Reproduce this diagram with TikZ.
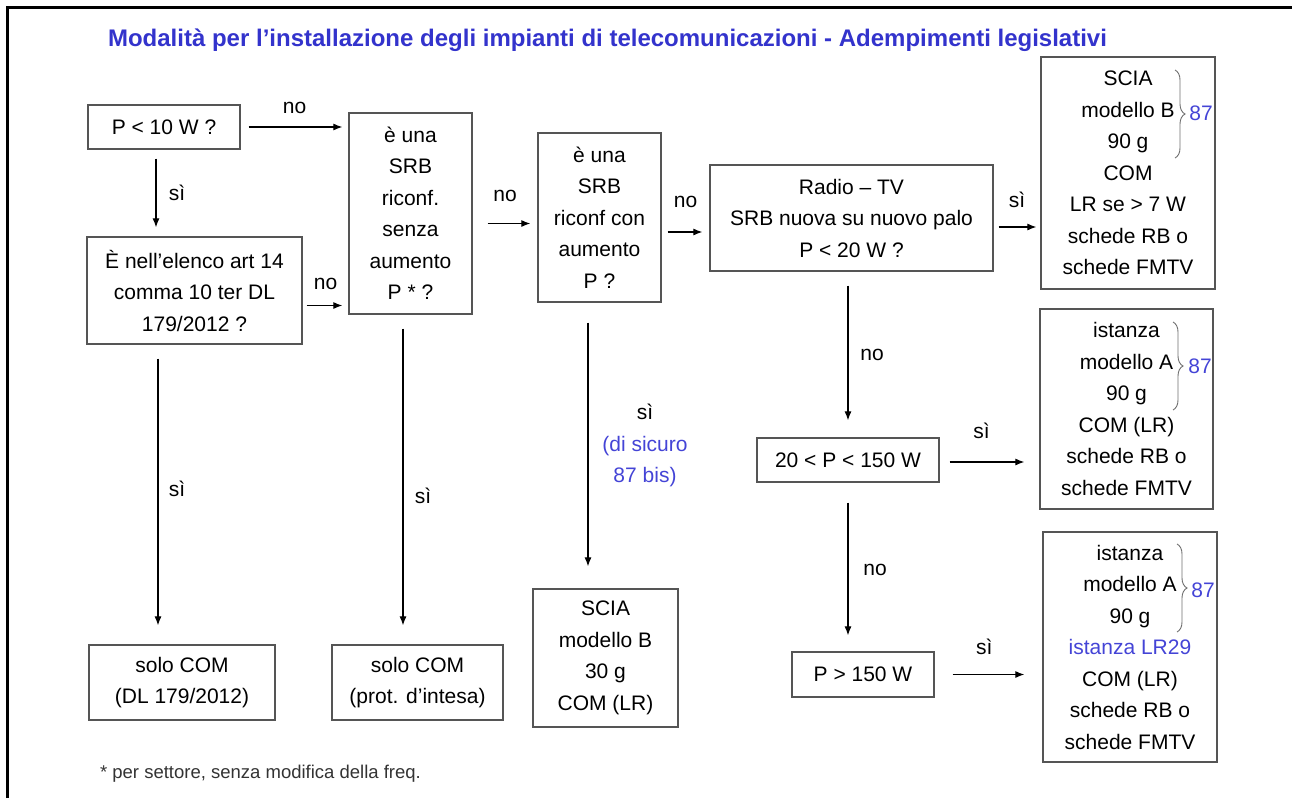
\documentclass[tikz,border=0pt]{standalone}
\usepackage{fontspec}
\setmainfont{Liberation Sans}
\usetikzlibrary{arrows.meta,decorations.pathreplacing}
\definecolor{titleblue}{RGB}{51,51,204}
\definecolor{noteblue}{RGB}{68,68,214}
\definecolor{boxgray}{RGB}{85,85,85}
\definecolor{bracegray}{RGB}{110,110,110}
\newcommand{\bodyfont}{\fontsize{21}{31.5}\selectfont}

\begin{document}
\begin{tikzpicture}[x=1pt,y=-1pt,
    box/.style={draw=boxgray,line width=1.3pt,align=center,inner sep=0pt,font=\bodyfont},
    arr/.style={line width=1.1pt,-{Latex[length=9pt,width=7pt]}},
    lbl/.style={font=\bodyfont,inner sep=0pt,align=center},
    brc/.style={draw=bracegray,line width=0.9pt,decorate,decoration={brace,amplitude=10pt}}]
  \useasboundingbox (0,0) rectangle (1292,798);
  % frame and title
  \draw[line width=3pt] (7,798) -- (7,7) -- (1292,7);
  \node[font=\fontsize{24}{28}\selectfont\bfseries,text=titleblue] (title) at (607.5,40)
    {Modalità per l’installazione degli impianti di telecomunicazioni - Adempimenti legislativi};
  % questions
  \node[box,minimum width=152pt,minimum height=44pt]  (p10)     at (164,127)   {P < 10 W ?};
  \node[box,minimum width=215pt,minimum height=107pt] (elenco)  at (194.5,290.5) {È nell’elenco art 14\\comma 10 ter DL\\179/2012 ?};
  \node[box,minimum width=123pt,minimum height=201pt] (riconf)  at (410.5,213.5) {è una\\SRB\\riconf.\\senza\\aumento\\P * ?};
  \node[box,minimum width=123pt,minimum height=169pt] (aumento) at (599.5,217.5) {è una\\SRB\\riconf con\\aumento\\P ?};
  \node[box,minimum width=283pt,minimum height=106pt] (radio)   at (851.5,218) {Radio – TV\\SRB nuova su nuovo palo\\P < 20 W ?};
  \node[box,minimum width=182pt,minimum height=44pt]  (p150)    at (848,460)   {20 < P < 150 W};
  \node[box,minimum width=142pt,minimum height=45pt]  (pgt)     at (863,674.5) {P > 150 W};
  % outcomes
  \node[box,minimum width=186pt,minimum height=75pt]  (com1)    at (182,682.5) {solo COM\\(DL 179/2012)};
  \node[box,minimum width=171pt,minimum height=75pt]  (com2)    at (417.5,682.5) {solo COM\\(prot. d’intesa)};
  \node[box,minimum width=145pt,minimum height=138pt] (scia30)  at (605.5,658) {SCIA\\modello B\\30 g\\COM (LR)};
  \node[box,minimum width=174pt,minimum height=232pt] (scia)    at (1128,173)  {SCIA\\modello B\\90 g\\COM\\LR se > 7 W\\schede RB o\\schede FMTV};
  \node[box,minimum width=173pt,minimum height=200pt] (istA)    at (1126.5,409) {istanza\\modello A\\90 g\\COM (LR)\\schede RB o\\schede FMTV};
  \node[box,minimum width=174pt,minimum height=230pt] (istB)    at (1130,647)  {istanza\\modello A\\90 g\\\textcolor{noteblue}{istanza LR29}\\COM (LR)\\schede RB o\\schede FMTV};
  % braces 87
  \draw[brc] (1175,70) -- (1175,158);
  \node[lbl,text=noteblue] (n87a) at (1201,113) {87};
  \draw[brc] (1173,322) -- (1173,410);
  \node[lbl,text=noteblue] (n87b) at (1200,366) {87};
  \draw[brc] (1177,544) -- (1177,632);
  \node[lbl,text=noteblue] (n87c) at (1203,590) {87};
  % connectors
  \draw[arr,shorten <=8pt,shorten >=6pt] (p10) -- (p10 -| riconf.west)
    node[lbl,midway,yshift=19pt]{no};
  \draw[arr,shorten <=9pt,shorten >=9pt] ([xshift=-8pt]p10.south) -- ([xshift=-8pt]p10.south |- elenco.north)
    node[lbl,midway,xshift=21pt]{sì};
  \draw[arr,shorten <=4pt,shorten >=6pt] ([yshift=-15pt]elenco.east) -- ([yshift=-15pt]elenco.east -| riconf.west)
    node[lbl,midway,yshift=22pt]{no};
  \draw[arr,shorten <=15pt,shorten >=7pt] ([yshift=-10pt]riconf.east) -- ([yshift=-10pt]riconf.east -| aumento.west)
    node[lbl,midway,yshift=28pt]{no};
  \draw[arr,shorten <=6pt,shorten >=7pt] ([yshift=-14.5pt]aumento.east) -- ([yshift=-14.5pt]aumento.east -| radio.west)
    node[lbl,midway,yshift=30pt]{no};
  \draw[arr,shorten <=5pt,shorten >=4pt] ([yshift=-9pt]radio.east) -- ([yshift=-9pt]radio.east -| scia.west)
    node[lbl,midway,yshift=27pt]{sì};
  \draw[arr,shorten <=14pt,shorten >=17pt] (p150 |- radio.south) -- (p150.north)
    node[lbl,midway,xshift=24pt]{no};
  \draw[arr,shorten <=10pt,shorten >=15pt] ([yshift=-2pt]p150.east) -- ([yshift=-2pt]p150.east -| istA.west)
    node[lbl,pos=0.42,yshift=31pt]{sì};
  \draw[arr,shorten <=20pt,shorten >=16pt] (p150.south) -- (p150.south |- pgt.north)
    node[lbl,pos=0.52,xshift=27pt]{no};
  \draw[arr,shorten <=18pt,shorten >=18pt] (pgt) -- (pgt -| istB.west)
    node[lbl,pos=0.46,yshift=28pt]{sì};
  \draw[arr,shorten <=14pt,shorten >=19pt] ([xshift=-36.5pt]elenco.south) -- ([xshift=-36.5pt]elenco.south |- com1.north)
    node[lbl,pos=0.48,xshift=19pt]{sì};
  \draw[arr,shorten <=14pt,shorten >=19pt] ([xshift=-7.5pt]riconf.south) -- ([xshift=-7.5pt]riconf.south |- com2.north)
    node[lbl,pos=0.55,xshift=20pt]{sì};
  \draw[arr,shorten <=20pt,shorten >=22pt] ([xshift=-11.5pt]aumento.south) -- ([xshift=-11.5pt]aumento.south |- scia30.north)
    node[lbl,midway,xshift=57pt]{sì\\\textcolor{noteblue}{(di sicuro}\\\textcolor{noteblue}{87 bis)}};
  % footnote
  \node[font=\fontsize{18.5}{22}\selectfont,text=black!80] (nota) at (260.5,774) {* per settore, senza modifica della freq.};
\end{tikzpicture}
\end{document}
